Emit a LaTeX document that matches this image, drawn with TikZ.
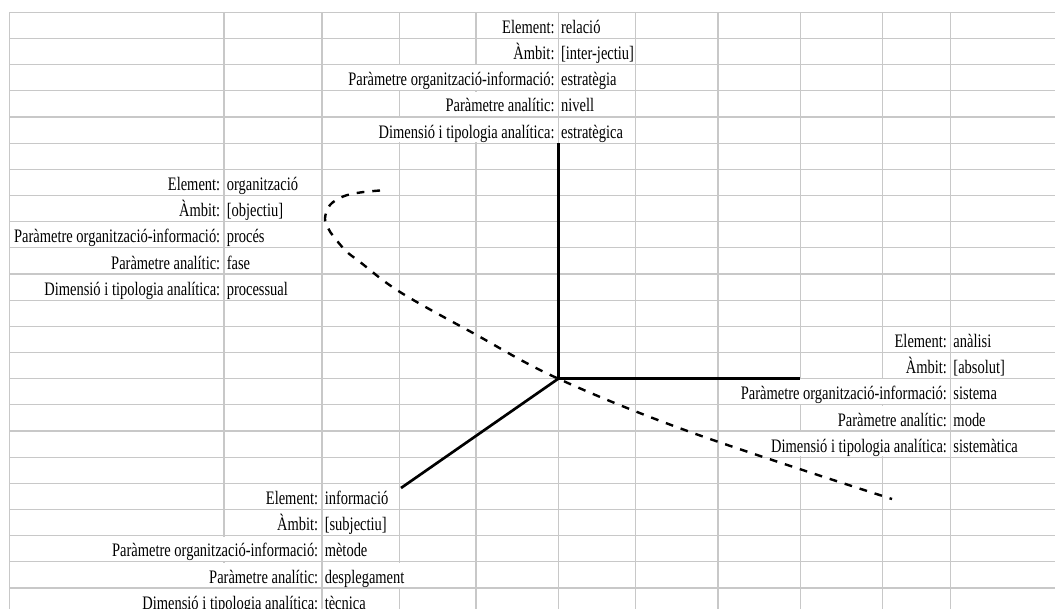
\documentclass[tikz,border=0pt]{standalone}
\usepackage{fontspec}
\setmainfont{Liberation Serif}[FakeStretch=0.76]
\definecolor{gridgray}{RGB}{200,200,200}
\newcommand\fs{\fontsize{14.3}{16}\selectfont}
\newcommand\rowtop[1]{12.3+26.17*(#1)}
\newcommand\infoblk[8]{%
  \node[lbl] (#1l0) at ({#2-3.5},{\rowtop{#3+1}-5}) {Element:};
  \node[val] (#1v0) at ({#2+2.5},{\rowtop{#3+1}-5}) {#4};
  \node[lbl] (#1l1) at ({#2-3.5},{\rowtop{#3+2}-5}) {Àmbit:};
  \node[val] (#1v1) at ({#2+2.5},{\rowtop{#3+2}-5}) {#5};
  \node[lbl] (#1l2) at ({#2-3.5},{\rowtop{#3+3}-5}) {Paràmetre organització-informació:};
  \node[val] (#1v2) at ({#2+2.5},{\rowtop{#3+3}-5}) {#6};
  \node[lbl] (#1l3) at ({#2-3.5},{\rowtop{#3+4}-5}) {Paràmetre analític:};
  \node[val] (#1v3) at ({#2+2.5},{\rowtop{#3+4}-5}) {#7};
  \node[lbl] (#1l4) at ({#2-3.5},{\rowtop{#3+5}-5}) {Dimensió i tipologia analítica:};
  \node[val] (#1v4) at ({#2+2.5},{\rowtop{#3+5}-5}) {#8};
}
\begin{document}
\begin{tikzpicture}[x=0.75pt,y=-0.75pt,
  grid/.style={draw=gridgray,line width=0.9pt},
  lbl/.style={anchor=base east,inner sep=0pt,font=\fs},
  val/.style={anchor=base west,inner sep=0pt,font=\fs},
  axis/.style={draw=black,line width=2pt},
  spiral/.style={draw=black,line width=1.8pt,dash pattern=on 5.8pt off 6pt}]
\useasboundingbox (0,0) rectangle (1055,608);
\clip (0,0) rectangle (1055,608);
\fill[white] (0,0) rectangle (1055,608);
% grid
\foreach \r in {0,...,23}
  \draw[grid] (9.3,{\rowtop{\r}}) -- (1055,{\rowtop{\r}});
\foreach \x in {9.3,224,322,399.3,476,558.3,635.3,718,800.3,882.7,950.7}
  \draw[grid] (\x,12.3) -- (\x,620);
% gridlines hidden by overflowing text
\foreach \r/\x in {2/399.3,2/476,3/476,4/399.3,4/476,14/800.3,14/882.7,15/882.7,16/800.3,16/882.7,20/224,21/224,21/399.3,22/224}
  \fill[white] ({\x-1.5},{\rowtop{\r}+0.8}) rectangle ({\x+1.5},{\rowtop{\r+1}-0.8});
% texts
\infoblk{a}{558.3}{0}{relació}{[inter-jectiu]}{estratègia}{nivell}{estratègica}
\infoblk{b}{224}{6}{organització}{[objectiu]}{procés}{fase}{processual}
\infoblk{c}{950.7}{12}{anàlisi}{[absolut]}{sistema}{mode}{sistemàtica}
\infoblk{d}{322}{18}{informació}{[subjectiu]}{mètode}{desplegament}{tècnica}
% axes
\coordinate (O) at (558.3,{\rowtop{14}});
\coordinate (N) at (558.3,{\rowtop{5}});
\coordinate (E) at (800.3,{\rowtop{14}});
\coordinate (SW) at (401,488);
\draw[axis] (N) -- (O) -- (E);
\draw[axis] (O) -- (SW);
% dashed curve
\draw[spiral] plot[smooth,tension=0.6] coordinates {(380,190.5) (360,192.5) (343,196.5) (330,205) (325,218) (328,228) (334,237) (346,251) (360,262) (400,292) (473,333) (O) (693,433) (892,499)};
\end{tikzpicture}
\end{document}
